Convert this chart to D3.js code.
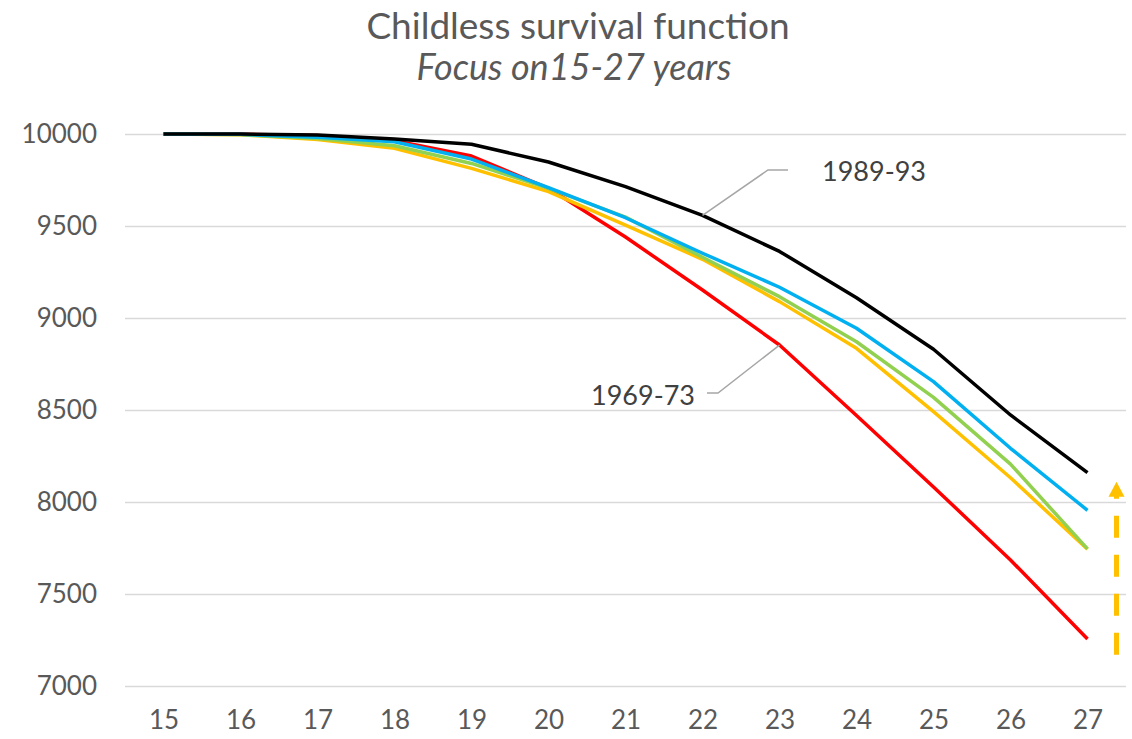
<!DOCTYPE html>
<html>
<head>
<meta charset="utf-8">
<script src="https://cdn.jsdelivr.net/npm/d3@7"></script>
<style>
  body { margin: 0; background: #fff; }
  text { font-family: Lato, "Open Sans", sans-serif; }
</style>
</head>
<body>
<div id="main"></div>
<script>
const ages = [15, 16, 17, 18, 19, 20, 21, 22, 23, 24, 25, 26, 27];

const red69 = [10000, 9998, 9992, 9964, 9880, 9705, 9440, 9152, 8853, 8470, 8082, 7685, 7255];
const yellow74 = [10000, 9996, 9970, 9922, 9813, 9687, 9505, 9319, 9089, 8835, 8491, 8132, 7743];
const green79 = [10000, 9997, 9975, 9936, 9840, 9705, 9548, 9330, 9116, 8871, 8569, 8206, 7745];
const blue84 = [10000, 9998, 9982, 9958, 9864, 9708, 9545, 9352, 9167, 8944, 8654, 8292, 7955];
const black89 = [10000, 10000, 9995, 9973, 9944, 9848, 9714, 9558, 9362, 9110, 8830, 8473, 8160];

const yTicks = [7000, 7500, 8000, 8500, 9000, 9500, 10000];

const series = [
  { name: "1969-73", values: red69, color: "#FF0000" },
  { name: "1974-78", values: yellow74, color: "#FFC000" },
  { name: "1979-83", values: green79, color: "#92D050" },
  { name: "1984-88", values: blue84, color: "#00B0F0" },
  { name: "1989-93", values: black89, color: "#000000" }
];

const width = 1132;
const height = 739;
const plotLeft = 125, plotRight = 1126, plotTop = 134, plotBottom = 686;

const svg = d3.select("#main")
  .append("svg")
  .attr("width", width)
  .attr("height", height);

const xScale = d3.scalePoint()
  .domain(ages)
  .range([plotLeft, plotRight])
  .padding(0.5);

const yScale = d3.scaleLinear()
  .domain([7000, 10000])
  .range([plotBottom, plotTop]);

// title
svg.append("text")
  .attr("x", 578)
  .attr("y", 39)
  .attr("text-anchor", "middle")
  .style("font-size", "37px")
  .style("fill", "#595959")
  .text("Childless survival function");

svg.append("text")
  .attr("x", 574)
  .attr("y", 80)
  .attr("text-anchor", "middle")
  .style("font-size", "36px")
  .style("font-style", "italic")
  .style("fill", "#595959")
  .text("Focus on15-27 years");

// grid
const yAxis = d3.axisLeft(yScale)
  .tickValues(yTicks)
  .tickSize(-(plotRight - plotLeft))
  .tickPadding(28)
  .tickFormat(d3.format("d"));

const gy = svg.append("g")
  .attr("transform", "translate(" + plotLeft + ",0)")
  .call(yAxis);

gy.select(".domain").remove();
gy.selectAll(".tick line")
  .attr("stroke", "#D9D9D9")
  .attr("stroke-width", 1.5);
gy.selectAll(".tick text")
  .style("font-size", "26px")
  .style("fill", "#595959")
  .attr("font-family", null);

const xAxis = d3.axisBottom(xScale)
  .tickSize(0)
  .tickPadding(25);

const gx = svg.append("g")
  .attr("transform", "translate(0," + plotBottom + ")")
  .call(xAxis);

gx.select(".domain").remove();
gx.selectAll(".tick text")
  .style("font-size", "26px")
  .style("fill", "#595959")
  .attr("font-family", null);

// lines
const line = d3.line()
  .x((d, i) => xScale(ages[i]))
  .y(d => yScale(d));

svg.selectAll(".series")
  .data(series)
  .enter()
  .append("path")
  .attr("class", "series")
  .attr("d", d => line(d.values))
  .attr("fill", "none")
  .attr("stroke", d => d.color)
  .attr("stroke-width", 3.5)
  .attr("stroke-linejoin", "round");

// labels with leader lines
const p89 = [xScale(22), yScale(black89[7])];
svg.append("polyline")
  .attr("points", [p89, [768, 170], [788, 170]].map(p => p.join(",")).join(" "))
  .attr("fill", "none")
  .attr("stroke", "#A6A6A6")
  .attr("stroke-width", 1.5);
svg.append("text")
  .attr("x", 822)
  .attr("y", 181)
  .style("font-size", "27px")
  .style("fill", "#404040")
  .text("1989-93");

const p69 = [xScale(23), yScale(red69[8])];
svg.append("polyline")
  .attr("points", [p69, [718, 393], [707, 393]].map(p => p.join(",")).join(" "))
  .attr("fill", "none")
  .attr("stroke", "#A6A6A6")
  .attr("stroke-width", 1.5);
svg.append("text")
  .attr("x", 695)
  .attr("y", 405)
  .attr("text-anchor", "end")
  .style("font-size", "27px")
  .style("fill", "#404040")
  .text("1969-73");

// dashed arrow on the right
const ax = xScale(27) + 29;
const yBot = yScale(7170);
const yTip = yScale(8110);
svg.append("line")
  .attr("x1", ax)
  .attr("x2", ax)
  .attr("y1", yBot)
  .attr("y2", yTip + 14)
  .attr("stroke", "#FFC000")
  .attr("stroke-width", 5)
  .attr("stroke-dasharray", "22,17");
svg.append("path")
  .attr("d", "M" + (ax - 8) + "," + (yTip + 15) + "L" + ax + "," + yTip + "L" + (ax + 8) + "," + (yTip + 15) + "Z")
  .attr("fill", "#FFC000");
</script>
</body>
</html>
